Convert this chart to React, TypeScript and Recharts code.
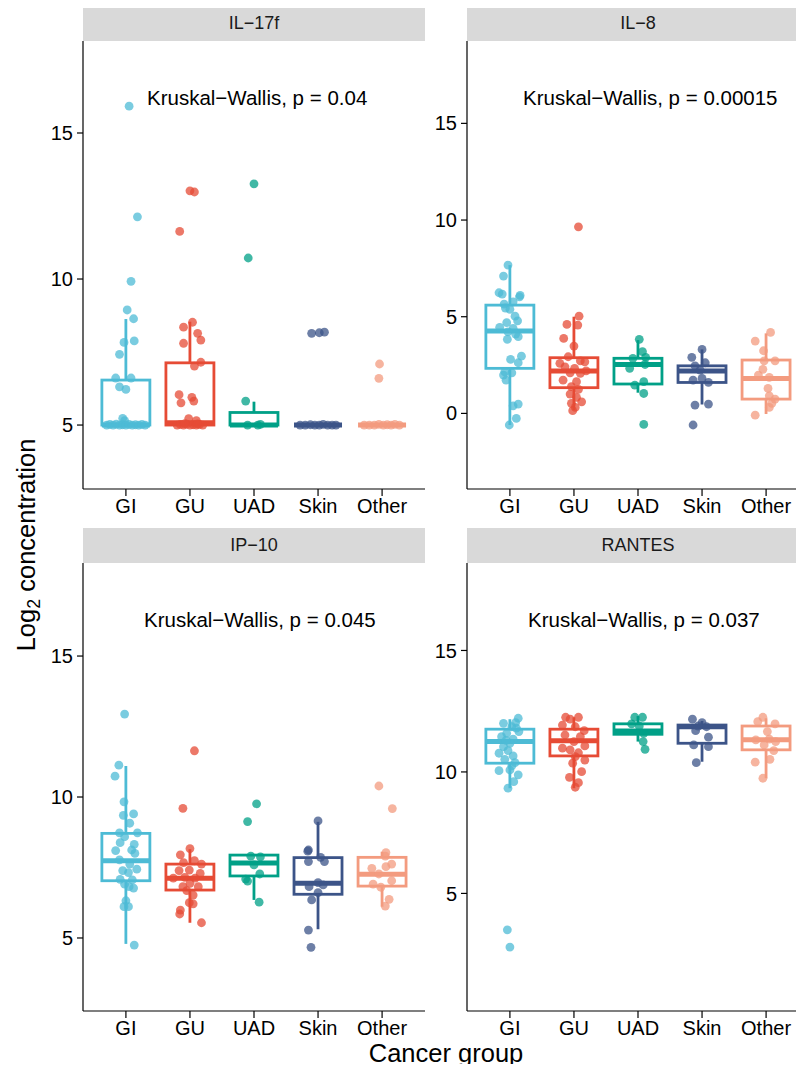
import React from "react";
import { ComposedChart, Bar, Scatter, XAxis, YAxis } from "recharts";

type Stat = [number, number, number, number, number];
type Pt = [number, number];

const GROUPS = ["GI", "GU", "UAD", "Skin", "Other"];
const GROUP_COLORS = ["#4DBBD5", "#E64B35", "#00A087", "#3C5488", "#F39B7F"];

const PANEL_TITLES = ["IL\u221217f", "IL\u22128", "IP\u221210", "RANTES"];
const P_VALUES = ["0.04", "0.00015", "0.045", "0.037"];

// box stats per group: [lower whisker, q1, median, q3, upper whisker]
const IL17F_BOXES: Stat[] = [
  [5, 5, 5, 6.54, 8.63],
  [5, 5, 5.08, 7.13, 8.54],
  [5, 5, 5, 5.43, 5.8],
  [5, 5, 5, 5, 5],
  [5, 5, 5, 5, 5],
];
const IL8_BOXES: Stat[] = [
  [-0.6, 2.33, 4.26, 5.6, 7.67],
  [0.17, 1.33, 2.19, 2.88, 5.0],
  [1.07, 1.52, 2.53, 2.85, 3.79],
  [0.46, 1.6, 2.19, 2.46, 3.31],
  [-0.03, 0.74, 1.81, 2.76, 4.14],
];
const IP10_BOXES: Stat[] = [
  [4.79, 7.03, 7.74, 8.71, 11.1],
  [5.54, 6.7, 7.12, 7.62, 8.15],
  [6.35, 7.2, 7.66, 7.94, 7.94],
  [5.31, 6.55, 6.94, 7.85, 9.12],
  [6.11, 6.84, 7.26, 7.86, 8.06],
];
const RANTES_BOXES: Stat[] = [
  [9.33, 10.36, 11.25, 11.76, 12.17],
  [9.33, 10.66, 11.28, 11.76, 12.25],
  [11.25, 11.55, 11.69, 11.98, 12.3],
  [10.42, 11.18, 11.86, 11.93, 12.1],
  [9.74, 10.91, 11.32, 11.89, 12.21],
];

// jittered points per group: [offset from group centre, value]
const IL17F_POINTS: Pt[][] = [
  [[0.05, 15.92], [0.18, 12.13], [0.08, 9.92], [0.02, 8.94], [0.12, 8.64], [-0.03, 7.83], [0.13, 7.88], [-0.1, 7.42],
   [-0.16, 6.61], [0.08, 6.61], [-0.1, 6.31], [0, 6.22], [-0.05, 5.23], [-0.02, 5.15], [-0.3, 5], [-0.25, 5.02],
   [-0.2, 5], [-0.15, 5.03], [-0.1, 5], [-0.05, 5.01], [0, 5], [0.05, 5.02], [0.1, 5], [0.15, 5.01], [0.2, 5],
   [0.25, 5.02], [0.3, 5]],
  [[0, 13.02], [0.07, 12.98], [-0.16, 11.63], [0.04, 8.52], [-0.1, 8.35], [0.12, 8.14], [0.17, 7.91], [-0.1, 7.8],
   [0.17, 7.15], [0.07, 7.02], [-0.17, 6.04], [0.03, 5.95], [-0.14, 5.76], [0.06, 5.82], [-0.02, 5.22], [0.1, 5.15],
   [-0.2, 5], [-0.15, 5.02], [-0.1, 5], [-0.05, 5.03], [0, 5], [0.05, 5.01], [0.1, 5], [0.15, 5.02], [0.2, 5],
   [-0.08, 5.05], [0.12, 5.04]],
  [[0, 13.26], [-0.09, 10.72], [-0.13, 5.82], [-0.1, 5], [0.06, 5], [0.1, 5.02]],
  [[-0.1, 8.14], [0.02, 8.16], [0.1, 8.18], [-0.28, 5], [-0.2, 5], [-0.12, 5.01], [-0.05, 5], [0.02, 5], [0.08, 5.02],
   [0.15, 5], [0.22, 5], [0.28, 5]],
  [[-0.04, 7.09], [-0.05, 6.6], [-0.28, 5], [-0.2, 5], [-0.12, 5], [-0.05, 5.02], [0.02, 5], [0.08, 5.01], [0.14, 5],
   [0.2, 5.02], [0.27, 5]],
];
const IL8_POINTS: Pt[][] = [
  [[-0.03, 7.67], [-0.1, 7.1], [-0.17, 6.24], [-0.12, 6.17], [0.15, 6.03], [0.05, 5.77], [-0.09, 5.65], [0, 5.38],
   [0.08, 5.03], [0.12, 4.79], [-0.05, 4.69], [-0.16, 4.45], [0.05, 4.4], [-0.03, 4.22], [0.13, 3.97], [-0.04, 3.83],
   [0.01, 2.79], [0.13, 2.62], [0.18, 2.96], [-0.08, 2.15], [0.03, 2.1], [-0.1, 1.98], [-0.06, 1.72], [0.05, 0.39],
   [0.13, 0.48], [0.1, -0.26], [-0.01, -0.6], [0.16, 6.1], [-0.07, 5.45], [0.09, 4.1]],
  [[0.07, 9.65], [0.08, 5.03], [-0.11, 4.6], [0.06, 4.57], [-0.16, 3.88], [0, 3.48], [-0.09, 2.93], [0.1, 2.72],
   [0.17, 2.67], [-0.22, 2.59], [-0.14, 2.41], [0.01, 2.33], [0.19, 2.2], [-0.06, 2.1], [0.1, 2.07], [-0.17, 1.72],
   [0.04, 1.64], [-0.04, 1.38], [0.07, 1.24], [-0.06, 1.0], [0.04, 0.83], [-0.04, 0.52], [0.02, 0.31], [-0.02, 0.14],
   [0.12, 0.6]],
  [[0.02, 3.83], [0.07, 3.19], [-0.08, 2.85], [0.12, 2.9], [-0.13, 2.33], [0.11, 2.53], [-0.05, 1.46], [0.09, 1.64],
   [0.09, 1.03], [0.09, -0.57]],
  [[0, 3.31], [-0.16, 2.9], [0.05, 2.62], [-0.11, 2.46], [-0.03, 2.24], [-0.14, 1.72], [0, 1.81], [0.1, 1.6],
   [-0.11, 0.43], [0.1, 0.48], [-0.14, -0.6]],
  [[0.07, 4.19], [-0.17, 3.74], [-0.04, 3.24], [-0.03, 2.72], [0.14, 2.72], [-0.05, 2.28], [-0.12, 1.98], [0.05, 1.86],
   [0.03, 1.29], [0.05, 0.91], [0.14, 0.74], [0.09, 0.52], [0.05, 0.31], [-0.17, -0.09]],
];
const IP10_POINTS: Pt[][] = [
  [[-0.02, 12.94], [-0.11, 11.13], [-0.17, 10.74], [-0.03, 9.83], [-0.04, 9.35], [0.12, 9.4], [0.06, 9.07],
   [-0.1, 8.73], [0.18, 8.73], [-0.02, 8.59], [-0.09, 8.38], [0.13, 8.32], [-0.16, 8.1], [0.09, 8.12], [0.14, 8.0],
   [-0.1, 7.77], [0.06, 7.62], [-0.05, 7.39], [0.17, 7.44], [0.04, 7.32], [-0.09, 7.08], [0.1, 7.06], [-0.02, 6.91],
   [0.12, 6.77], [0.05, 6.82], [0, 6.32], [-0.03, 6.11], [0.04, 6.11], [0.13, 4.75]],
  [[0.07, 11.64], [-0.11, 9.6], [0, 8.17], [-0.15, 7.95], [0.07, 7.74], [-0.1, 7.67], [0.18, 7.62], [-0.17, 7.39],
   [-0.01, 7.41], [0.16, 7.29], [-0.08, 7.15], [0.08, 7.12], [-0.26, 7.12], [0, 6.94], [-0.11, 6.82], [0.13, 6.82],
   [-0.05, 6.68], [0.05, 6.52], [-0.01, 6.25], [0.05, 6.21], [-0.15, 5.99], [-0.16, 5.85], [0.18, 5.54]],
  [[0.04, 9.76], [-0.1, 9.13], [-0.05, 7.9], [0.1, 7.88], [0, 7.59], [0.09, 7.27], [-0.13, 7.09], [-0.1, 7.02],
   [0.08, 6.27]],
  [[0, 9.15], [-0.15, 8.12], [-0.16, 8.08], [0.04, 7.86], [0.1, 7.71], [-0.15, 7.71], [0, 6.96], [0.08, 6.88],
   [-0.14, 6.82], [0, 6.61], [-0.1, 6.35], [-0.15, 5.28], [-0.11, 4.67]],
  [[-0.05, 10.39], [0.16, 9.59], [0.06, 8.03], [0.05, 7.9], [-0.16, 7.47], [0.06, 7.53], [0.15, 7.62], [-0.05, 7.27],
   [0.15, 7.03], [-0.14, 6.91], [-0.02, 6.8], [0.11, 6.37], [0.05, 6.13]],
];
const RANTES_POINTS: Pt[][] = [
  [[0.13, 12.21], [-0.1, 12.0], [0.09, 12.03], [0.03, 11.86], [0.14, 11.66], [-0.05, 11.59], [-0.13, 11.45],
   [0.05, 11.35], [0, 11.18], [-0.1, 11.04], [-0.03, 10.88], [-0.17, 10.77], [0.05, 10.66], [-0.08, 10.52],
   [0.08, 10.38], [0.03, 10.25], [-0.17, 10.05], [0, 10.08], [0.13, 9.88], [0.06, 9.6], [-0.03, 9.33],
   [0.1, 11.8], [-0.06, 11.3], [-0.04, 3.5], [0, 2.79]],
  [[-0.13, 12.25], [0.07, 12.25], [-0.06, 12.17], [-0.18, 11.93], [0.02, 11.86], [0.16, 11.7], [-0.14, 11.52],
   [0.1, 11.45], [0, 11.25], [0.17, 11.07], [-0.18, 10.98], [-0.06, 10.91], [0.07, 10.79], [0.02, 10.63],
   [0.17, 10.49], [-0.02, 10.36], [0.12, 10.01], [-0.07, 9.78], [0.07, 9.56], [0.02, 9.37]],
  [[-0.05, 12.25], [0.07, 12.25], [-0.1, 11.98], [0.02, 11.89], [0.09, 11.59], [0.08, 11.25], [0.11, 10.93]],
  [[-0.15, 12.17], [0, 12.03], [-0.06, 11.89], [0.07, 11.86], [-0.1, 11.7], [0.1, 11.43], [-0.13, 11.11],
   [0.1, 11.04], [-0.09, 10.38]],
  [[-0.05, 12.25], [-0.13, 12.07], [0.14, 11.98], [0.02, 11.66], [-0.16, 11.32], [0.05, 11.35], [0.15, 11.25],
   [-0.03, 11.11], [0.12, 10.88], [0.06, 10.52], [-0.17, 10.4], [-0.05, 9.74]],
];

const PLOT_W = 342;
const PLOT_H = 448;
const Y_W = 70;
const X_H = 50;
const BOX_HALF = 24;
const FONT = '"Liberation Sans", Arial, Helvetica, sans-serif';

const BoxShape = (props: any) => {
  const { x, y, width, height, payload } = props;
  if (!payload) return null;
  const [lo, q1, med, q3, hi] = payload.stats as Stat;
  const color = payload.color;
  const span = hi - lo;
  const py = (v: number) => (span === 0 ? y : y + (height * (hi - v)) / span);
  const cx = x + width / 2;
  return (
    <g>
      <line x1={cx} x2={cx} y1={py(hi)} y2={py(q3)} stroke={color} strokeWidth={2.8} />
      <line x1={cx} x2={cx} y1={py(q1)} y2={py(lo)} stroke={color} strokeWidth={2.8} />
      <rect x={cx - BOX_HALF} y={py(q3)} width={BOX_HALF * 2} height={Math.max(0, py(q1) - py(q3))}
        fill="#fff" stroke={color} strokeWidth={2.8} />
      <line x1={cx - BOX_HALF} x2={cx + BOX_HALF} y1={py(med)} y2={py(med)} stroke={color} strokeWidth={5} />
    </g>
  );
};

type PanelProps = {
  left: number;
  top: number;
  title: string;
  pValue: string;
  labelLeft: number;
  boxes: Stat[];
  points: Pt[][];
  domain: [number, number];
  ticks: number[];
};

function Panel({ left, top, title, pValue, labelLeft, boxes, points, domain, ticks }: PanelProps) {
  const boxData = boxes.map((s, i) => ({ x: i + 1, range: [s[0], s[4]], stats: s, color: GROUP_COLORS[i] }));
  return (
    <>
      <div
        style={{
          position: "absolute", left, top: top - 35, width: PLOT_W, height: 35, background: "#D9D9D9",
          color: "#1A1A1A", fontSize: 18, lineHeight: "35px", textAlign: "center",
        }}
      >
        {title}
      </div>
      <div style={{ position: "absolute", left: left - Y_W, top }}>
        <ComposedChart width={Y_W + PLOT_W} height={PLOT_H + X_H} data={boxData} margin={{ top: 0, right: 0, bottom: 0, left: 0 }}>
          <XAxis
            type="number" dataKey="x" domain={[0.33, 5.67]} ticks={[1, 2, 3, 4, 5]} allowDataOverflow interval={0}
            tickFormatter={(v: number) => GROUPS[v - 1]} height={X_H}
            axisLine={{ stroke: "#000", strokeWidth: 1.2 }} tickLine={{ stroke: "#000", strokeWidth: 1.2 }}
            tickSize={7} tickMargin={3} tick={{ fill: "#000", fontSize: 20 }}
          />
          <YAxis
            type="number" dataKey="y" domain={domain} ticks={ticks} allowDataOverflow interval={0} width={Y_W}
            axisLine={{ stroke: "#000", strokeWidth: 1.2 }} tickLine={{ stroke: "#000", strokeWidth: 1.2 }}
            tickSize={6} tickMargin={4} tick={{ fill: "#000", fontSize: 20 }}
          />
          <Bar dataKey="range" barSize={48} shape={BoxShape} isAnimationActive={false} />
          {points.map((grp, gi) => (
            <Scatter
              key={GROUPS[gi]}
              data={grp.map(([dx, v]) => ({ x: gi + 1 + dx, y: v }))}
              isAnimationActive={false}
              shape={(p: any) => <circle cx={p.cx} cy={p.cy} r={4.4} fill={GROUP_COLORS[gi]} fillOpacity={0.75} />}
            />
          ))}
        </ComposedChart>
      </div>
      <div style={{ position: "absolute", left: labelLeft, top: top + 47, fontSize: 20.5, lineHeight: "20px", color: "#000", whiteSpace: "nowrap" }}>
        {"Kruskal\u2212Wallis, p = " + pValue}
      </div>
    </>
  );
}

export default function App() {
  return (
    <div style={{ position: "relative", width: 804, height: 1072, margin: -8, overflow: "hidden", background: "#fff", fontFamily: FONT }}>
      <Panel left={83} top={41} title={PANEL_TITLES[0]} pValue={P_VALUES[0]} labelLeft={147}
        boxes={IL17F_BOXES} points={IL17F_POINTS} domain={[2.81, 18.15]} ticks={[5, 10, 15]} />
      <Panel left={467} top={41} title={PANEL_TITLES[1]} pValue={P_VALUES[1]} labelLeft={523}
        boxes={IL8_BOXES} points={IL8_POINTS} domain={[-3.91, 19.26]} ticks={[0, 5, 10, 15]} />
      <Panel left={83} top={563} title={PANEL_TITLES[2]} pValue={P_VALUES[2]} labelLeft={144}
        boxes={IP10_BOXES} points={IP10_POINTS} domain={[2.41, 18.3]} ticks={[5, 10, 15]} />
      <Panel left={467} top={563} title={PANEL_TITLES[3]} pValue={P_VALUES[3]} labelLeft={528}
        boxes={RANTES_BOXES} points={RANTES_POINTS} domain={[0.16, 18.6]} ticks={[5, 10, 15]} />
      <div style={{ position: "absolute", left: 83, top: 1040, width: 726, textAlign: "center", fontSize: 25.5, lineHeight: "26px", color: "#000" }}>
        Cancer group
      </div>
      <div
        style={{
          position: "absolute", left: 26 - 150, top: 545 - 15, width: 300, height: 30, lineHeight: "30px",
          textAlign: "center", fontSize: 25.5, color: "#000", transform: "rotate(-90deg)", transformOrigin: "center",
          whiteSpace: "nowrap",
        }}
      >
        Log<sub style={{ fontSize: "0.7em", lineHeight: 0, verticalAlign: "-0.3em" }}>2</sub> concentration
      </div>
    </div>
  );
}
